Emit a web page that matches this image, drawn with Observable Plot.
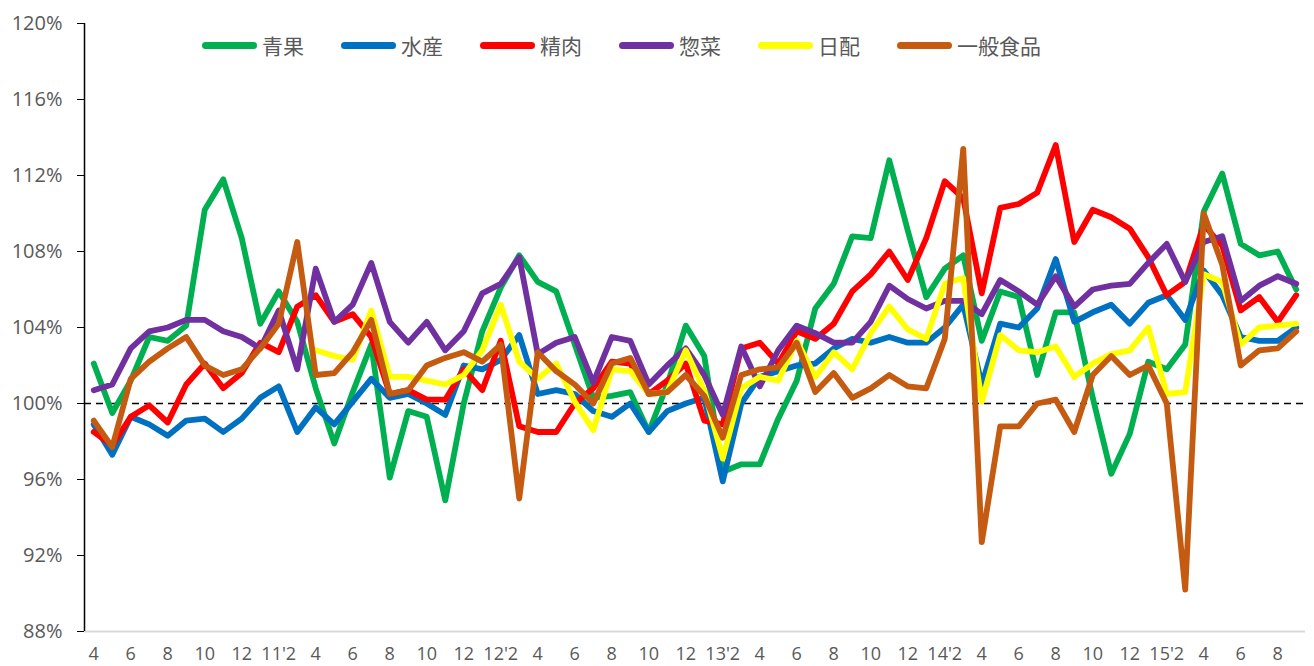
<!DOCTYPE html>
<html><head><meta charset="utf-8">
<script src="https://cdn.jsdelivr.net/npm/d3@7"></script>
<script src="https://cdn.jsdelivr.net/npm/@observablehq/plot@0.6"></script>
<style>
body{margin:0;background:#fff;}
#wrap{position:relative;width:1314px;height:666px;}
#legend{position:absolute;left:202px;top:30px;display:flex;align-items:center;font-family:"Noto Sans CJK JP",sans-serif;font-size:21px;color:#595959;line-height:30px;}
.item{display:flex;align-items:center;margin-right:37px;}
.sw{width:55px;height:7px;border-radius:3.5px;margin-right:5px;}
</style></head><body><div id="wrap"><div id="legend"></div></div>
<script>
// month labels, 2010-04 .. 2015-09
const months = ["4","5","6","7","8","9","10","11","12",
  "1","11'2","3","4","5","6","7","8","9","10","11","12",
  "1","12'2","3","4","5","6","7","8","9","10","11","12",
  "1","13'2","3","4","5","6","7","8","9","10","11","12",
  "1","14'2","3","4","5","6","7","8","9","10","11","12",
  "1","15'2","3","4","5","6","7","8","9"];
const seriesNames = ["青果","水産","精肉","惣菜","日配","一般食品"];
const seriesColors = ["#00B050","#0070C0","#FF0000","#7030A0","#FFFF00","#C55A11"];
const yTicks = [88,92,96,100,104,108,112,116,120];

const seika = [102.1,99.5,101.2,103.5,103.3,104.1,110.2,111.8,108.7,104.2,
  105.9,104.3,100.8,97.9,100.6,103.1,96.1,99.6,99.3,94.9,
  100.0,103.8,106.1,107.8,106.4,105.9,103.1,100.3,100.4,100.6,
  98.5,101.0,104.1,102.5,96.4,96.8,96.8,99.2,101.2,105.0,
  106.3,108.8,108.7,112.8,109.1,105.6,107.1,107.8,103.3,105.9,
  105.6,101.5,104.8,104.8,100.3,96.3,98.4,102.2,101.8,103.1,
  110.1,112.1,108.4,107.8,108.0,106.0];
const suisan = [98.9,97.3,99.3,98.9,98.3,99.1,99.2,98.5,99.2,100.3,
  100.9,98.5,99.8,98.9,100.1,101.3,100.3,100.5,100.0,99.4,
  102.0,101.8,102.3,103.6,100.5,100.7,100.5,99.6,99.3,100.0,
  98.5,99.6,100.0,100.3,95.9,100.0,101.4,101.7,102.0,102.1,
  102.9,103.4,103.2,103.5,103.2,103.2,104.0,105.2,101.0,104.2,
  104.0,105.0,107.6,104.3,104.8,105.2,104.2,105.3,105.7,104.4,
  107.0,105.7,103.5,103.3,103.3,104.0];
const seiniku = [98.5,97.8,99.3,99.9,99.0,101.0,102.1,100.8,101.6,103.2,
  102.7,105.1,105.7,104.3,104.7,103.5,100.5,100.7,100.2,100.2,
  101.8,100.7,103.3,98.8,98.5,98.5,100.0,100.8,102.2,102.1,
  100.5,101.2,102.1,99.1,98.9,102.9,103.2,102.1,103.8,103.4,
  104.2,105.9,106.8,108.0,106.5,108.7,111.7,110.8,105.8,110.3,
  110.5,111.1,113.6,108.5,110.2,109.8,109.2,107.7,105.7,106.4,
  109.4,108.3,104.9,105.6,104.3,105.7];
const souzai = [100.7,101.0,102.9,103.8,104.0,104.4,104.4,103.8,103.5,102.9,
  104.9,101.8,107.1,104.3,105.2,107.4,104.3,103.2,104.3,102.8,
  103.8,105.8,106.3,107.7,102.6,103.2,103.5,101.1,103.5,103.3,
  101.0,102.0,102.9,101.5,99.4,103.0,100.9,102.8,104.1,103.7,
  103.2,103.2,104.3,106.2,105.5,105.0,105.4,105.4,104.7,106.5,
  105.9,105.2,106.7,105.1,106.0,106.2,106.3,107.4,108.4,106.4,
  108.5,108.8,105.4,106.2,106.7,106.3];
const nippai = [null,null,null,null,null,null,null,null,null,null,
  null,null,102.8,102.5,102.3,104.9,101.4,101.4,101.2,101.0,
  101.5,102.8,105.2,102.2,101.3,102.1,100.1,98.6,101.8,101.7,
  100.5,100.6,102.8,100.7,97.1,100.8,101.4,101.2,103.3,101.4,
  102.7,101.8,103.7,105.1,103.9,103.4,106.3,106.6,100.1,103.6,
  102.8,102.7,103.0,101.4,102.1,102.6,102.8,104.0,100.5,100.6,
  106.8,106.4,103.1,104.0,104.1,104.2];
const ippan = [99.1,97.7,101.3,102.2,102.9,103.5,102.0,101.5,101.8,102.9,
  104.2,108.5,101.5,101.6,102.7,104.4,100.5,100.7,102.0,102.4,
  102.7,102.2,103.1,95.0,102.7,101.7,101.0,100.0,102.1,102.4,
  100.5,100.6,101.5,100.4,98.2,101.5,101.8,101.9,103.2,100.6,
  101.6,100.3,100.8,101.5,100.9,100.8,103.4,113.4,92.7,98.8,
  98.8,100.0,100.2,98.5,101.5,102.5,101.5,102.0,100.0,90.2,
  110.0,107.3,102.0,102.8,102.9,103.8];

const seriesValues = [seika, suisan, seiniku, souzai, nippai, ippan];
const xTickIdx = months.map((m,i)=>i).filter(i=>i%2===0);

const lineMarks = seriesNames.map((name, k) => {
  const rows = seriesValues[k].map((v,i)=>({i, v, name})).filter(d=>d.v!=null);
  return Plot.line(rows, {x:"i", y:"v", stroke: seriesColors[k], strokeWidth:5.8,
    strokeLinejoin:"round", strokeLinecap:"round"});
});

const chart = Plot.plot({
  width:1314, height:666,
  marginTop:23, marginBottom:35, marginLeft:84, marginRight:9,
  style:{fontFamily:"'Open Sans', sans-serif", background:"white", overflow:"visible"},
  x:{type:"linear", domain:[-0.5,65.5]},
  y:{domain:[88,120]},
  marks:[
    Plot.ruleY([88],{stroke:"#d9d9d9",strokeWidth:2}),
    Plot.axisY({ticks:yTicks, tickSize:7, tickPadding:15, tickFormat:d=>d+"%", stroke:"black", fill:"#595959", fontSize:20, label:null}),
    Plot.axisX({ticks:xTickIdx, tickSize:0, tickPadding:16, tickFormat:i=>months[i], fill:"#595959", fontSize:18, label:null}),
    Plot.ruleX([-0.5],{stroke:"black",strokeWidth:1.5}),
    Plot.ruleY([100],{stroke:"black",strokeWidth:1.5,strokeDasharray:"7,5"}),
    ...lineMarks
  ]
});
document.getElementById("wrap").prepend(chart);

const legend = document.getElementById("legend");
seriesNames.forEach((name,k)=>{
  const it = document.createElement("div"); it.className="item";
  const sw = document.createElement("div"); sw.className="sw"; sw.style.background=seriesColors[k];
  const tx = document.createElement("span"); tx.textContent=name;
  it.appendChild(sw); it.appendChild(tx); legend.appendChild(it);
});
</script></body></html>
